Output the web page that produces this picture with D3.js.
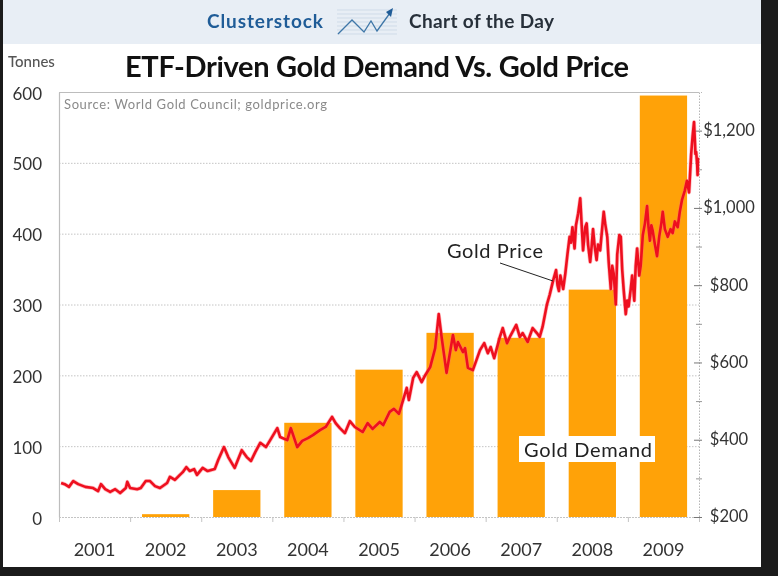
<!DOCTYPE html>
<html>
<head>
<meta charset="utf-8">
<script src="https://cdnjs.cloudflare.com/ajax/libs/d3/7.8.5/d3.min.js"></script>
<style>
html, body { margin: 0; padding: 0; background: #1b1b1b; }
svg { display: block; filter: blur(0.35px); }
text { font-family: Lato, "Open Sans", sans-serif; }
</style>
</head>
<body>
<svg id="chart" width="778" height="576"></svg>
<script>
const years = ["2001", "2002", "2003", "2004", "2005", "2006", "2007", "2008", "2009"]
const demand = [0, 4, 38, 133, 208, 260, 253, 321, 595]

// decimal year + dollars
const priceDates = [
	2001.03, 2001.08, 2001.14, 2001.20, 2001.27, 2001.37, 2001.48, 2001.55, 2001.59, 2001.65, 2001.72, 2001.79, 2001.86, 2001.94, 2001.96,
	2002.00, 2002.10, 2002.15, 2002.22, 2002.28, 2002.35, 2002.42, 2002.52, 2002.56, 2002.63, 2002.70, 2002.74, 2002.79, 2002.84, 2002.90, 2002.94,
	2003.02, 2003.09, 2003.19, 2003.24, 2003.32, 2003.38, 2003.47, 2003.57, 2003.64, 2003.70, 2003.76, 2003.83, 2003.91, 2003.97,
	2004.07, 2004.11, 2004.21, 2004.26, 2004.35, 2004.42, 2004.50, 2004.57, 2004.67, 2004.75, 2004.84, 2004.89, 2004.95,
	2005.02, 2005.09, 2005.16, 2005.27, 2005.34, 2005.41, 2005.51, 2005.56, 2005.65, 2005.71, 2005.78, 2005.84, 2005.89, 2005.92, 2005.98,
	2006.03, 2006.10, 2006.15, 2006.22, 2006.29, 2006.34, 2006.38, 2006.45, 2006.54, 2006.58, 2006.61, 2006.68, 2006.71, 2006.75, 2006.82, 2006.92, 2006.98,
	2007.03, 2007.07, 2007.12, 2007.20, 2007.24, 2007.30, 2007.34, 2007.43, 2007.48, 2007.52, 2007.59, 2007.66, 2007.72, 2007.76, 2007.80, 2007.86, 2007.90, 2007.95, 2007.99,
	2008.01, 2008.03, 2008.05, 2008.09, 2008.12, 2008.15, 2008.18, 2008.20, 2008.22, 2008.25, 2008.27, 2008.30, 2008.33, 2008.35, 2008.37, 2008.40, 2008.42, 2008.44, 2008.47, 2008.49,
	2008.51, 2008.53, 2008.56, 2008.58, 2008.61, 2008.63, 2008.66, 2008.68, 2008.71, 2008.73, 2008.76, 2008.78, 2008.80, 2008.83, 2008.85, 2008.88, 2008.90, 2008.92, 2008.94, 2008.97, 2008.99,
	2009.01, 2009.04, 2009.06, 2009.09, 2009.11, 2009.13, 2009.16, 2009.18, 2009.21, 2009.24, 2009.27, 2009.29, 2009.31, 2009.33, 2009.35, 2009.38, 2009.41, 2009.44, 2009.47, 2009.49,
	2009.52, 2009.56, 2009.60, 2009.63, 2009.66, 2009.70, 2009.73, 2009.76, 2009.80, 2009.83, 2009.86, 2009.89, 2009.91, 2009.93, 2009.95, 2009.96, 2009.975, 2009.98, 2009.985
]
const priceValues = [
	288, 285, 278, 293, 285, 278, 275, 267, 285, 272, 265, 272, 262, 275, 291,
	275, 272, 275, 293, 293, 280, 275, 288, 304, 296, 309, 316, 329, 319, 324, 309,
	327, 319, 324, 348, 381, 355, 327, 373, 355, 345, 368, 392, 381, 399,
	430, 407, 399, 430, 381, 397, 404, 412, 425, 433, 459, 443, 430,
	417, 448, 433, 420, 443, 428, 446, 438, 472, 480, 467, 503, 534, 503, 560,
	575, 549, 567, 588, 637, 725, 666, 573, 671, 632, 653, 627, 637, 586, 580, 632, 650,
	624, 640, 611, 666, 689, 650, 666, 697, 666, 676, 653, 689, 676, 666, 692, 749, 775, 813, 839,
	800, 785, 825, 790, 830, 880, 925, 910, 950, 895, 955, 985, 1025, 955, 890, 950, 960, 905, 860, 900,
	945, 905, 865, 905, 890, 930, 990, 960, 925, 860, 790, 850, 830, 750, 880, 930, 925, 840, 790, 725, 760,
	745, 790, 825, 760, 850, 895, 825, 850, 930, 960, 1005, 950, 915, 955, 940, 905, 875, 925, 960, 990,
	945, 925, 945, 935, 965, 950, 990, 1020, 1045, 1070, 1040, 1140, 1185, 1222, 1140, 1145, 1110, 1085, 1130
]

const tonneTicks = [0, 100, 200, 300, 400, 500, 600]
const priceTicks = [200, 400, 600, 800, 1000, 1200]
const priceMinorTicks = [300, 500, 700, 900, 1100]

const plotLeft = 59
const plotRight = 699
const plotTop = 92
const plotBottom = 517

const svg = d3.select("#chart")

// white card + banner
svg.append("rect").attr("x", 3).attr("y", 0).attr("width", 758).attr("height", 567).attr("fill", "#fff")
svg.append("rect").attr("x", 3).attr("y", 0).attr("width", 758).attr("height", 44).attr("fill", "#e8eef5")

const x = d3.scaleBand().domain(years).range([plotLeft, plotRight]).paddingInner(0.335).paddingOuter(0.1675)
const xTime = d3.scaleLinear().domain([2001, 2010]).range([plotLeft, plotRight])
const yLeft = d3.scaleLinear().domain([0, 600]).range([plotBottom, plotTop])
const yRight = d3.scaleLinear().domain([200, 1300]).range([plotBottom, plotTop])

// gridlines
const grid = svg.append("g").attr("transform", `translate(${plotLeft},0)`)
	.call(d3.axisLeft(yLeft).tickValues(tonneTicks).tickSize(-(plotRight - plotLeft)).tickFormat(""))
grid.select(".domain").remove()
grid.selectAll("line").attr("stroke", "#c4c4c4").attr("stroke-dasharray", "1.5 1.5")
grid.selectAll(".tick").filter(d => d === 600).select("line").attr("stroke-dasharray", null).attr("stroke", "#bdbdbd")

// bars
svg.append("g").selectAll("rect")
	.data(demand)
	.enter()
	.append("rect")
	.attr("x", (d, i) => x(years[i]))
	.attr("y", d => yLeft(d))
	.attr("width", x.bandwidth())
	.attr("height", d => yLeft(0) - yLeft(d))
	.attr("fill", "#ffa208")

// left axis
const leftAxis = svg.append("g").attr("transform", `translate(${plotLeft},0)`)
	.call(d3.axisLeft(yLeft).tickValues(tonneTicks).tickSize(0).tickPadding(17))
leftAxis.select(".domain").attr("stroke", "#bdbdbd").attr("stroke-width", 1.2)
leftAxis.selectAll("text").attr("font-size", 17).attr("fill", "#333").attr("dy", "0.42em")

// bottom axis
const bottomAxis = svg.append("g").attr("transform", `translate(0,${plotBottom})`)
	.call(d3.axisBottom(x).tickSize(0).tickPadding(26))
bottomAxis.select(".domain").attr("stroke", "#c4c4c4").attr("stroke-dasharray", "1.5 1.5")
bottomAxis.selectAll("text").attr("font-size", 18).attr("fill", "#333")
svg.append("g").attr("transform", `translate(0,${plotBottom})`)
	.call(d3.axisBottom(xTime).tickValues(d3.range(2001, 2011)).tickSize(5).tickFormat(""))
	.call(g => g.select(".domain").remove())
	.selectAll("line").attr("stroke", "#c4c4c4")

// right axis
const rightAxis = svg.append("g").attr("transform", `translate(${plotRight},0)`)
	.call(d3.axisRight(yRight).tickValues(priceTicks).tickSize(3).tickPadding(8).tickFormat(d => "$" + d3.format(",")(d)))
rightAxis.select(".domain").attr("stroke", "#b5b5b5").attr("stroke-dasharray", "1.5 1.5")
rightAxis.selectAll("line").attr("x1", -5).attr("stroke", "#777")
rightAxis.selectAll("text").attr("font-size", 16.5).attr("fill", "#333").attr("text-anchor", "middle").attr("x", 30).attr("dy", "0.3em")
svg.append("g").attr("transform", `translate(${plotRight},0)`)
	.call(d3.axisRight(yRight).tickValues(priceMinorTicks).tickSize(3).tickFormat(""))
	.call(g => g.select(".domain").remove())
	.selectAll("line").attr("x1", -3).attr("stroke", "#999")

// price line
const line = d3.line()
	.x((d, i) => xTime(priceDates[i]))
	.y(d => yRight(d))
svg.append("path").attr("d", line(priceValues)).attr("fill", "none").attr("stroke", "#ff6a70").attr("stroke-width", 4).attr("stroke-opacity", 0.45).attr("stroke-linejoin", "round")
svg.append("path").attr("d", line(priceValues)).attr("fill", "none").attr("stroke", "#ee0f1f").attr("stroke-width", 2.6).attr("stroke-linejoin", "round")

// banner
svg.append("text").text("Clusterstock").attr("x", 207).attr("y", 28).attr("font-size", 19).attr("font-weight", 700).attr("fill", "#1f5c97").attr("textLength", 116)
svg.append("text").text("Chart of the Day").attr("x", 409).attr("y", 28).attr("font-size", 19).attr("font-weight", 700).attr("fill", "#27303a").attr("textLength", 145)
const icon = svg.append("g")
icon.selectAll("line").data([10, 14, 18, 22, 26, 30, 34]).enter().append("line")
	.attr("x1", 337).attr("x2", 397).attr("y1", d => d).attr("y2", d => d).attr("stroke", "#cfdbe8")
icon.append("polyline").attr("points", "338,34 352,20 364,32 371,21 377,31 390,13").attr("fill", "none").attr("stroke", "#3f77a8").attr("stroke-width", 1.3)
icon.append("path").attr("d", "M393,8 L386,12 L391,17 Z").attr("fill", "#1f5c97")

// titles
svg.append("text").text("ETF-Driven Gold Demand Vs. Gold Price").attr("x", 125).attr("y", 77).attr("font-size", 29).attr("font-weight", 700).attr("fill", "#111").attr("textLength", 504)
svg.append("text").text("Tonnes").attr("x", 8).attr("y", 67).attr("font-size", 15).attr("font-weight", 500).attr("fill", "#555")
svg.append("text").text("Source: World Gold Council; goldprice.org").attr("x", 64).attr("y", 109).attr("font-size", 13).attr("fill", "#8a8a8a").attr("textLength", 263)

// annotations
svg.append("line").attr("x1", 500).attr("y1", 263).attr("x2", 553).attr("y2", 281).attr("stroke", "#222").attr("stroke-width", 1)
svg.append("text").text("Gold Price").attr("x", 447).attr("y", 258).attr("font-size", 20).attr("fill", "#222").attr("textLength", 96)
svg.append("rect").attr("x", 519).attr("y", 436).attr("width", 136).attr("height", 26).attr("fill", "#fff")
svg.append("text").text("Gold Demand").attr("x", 524).attr("y", 457).attr("font-size", 20).attr("fill", "#222").attr("textLength", 128)
</script>
</body>
</html>
